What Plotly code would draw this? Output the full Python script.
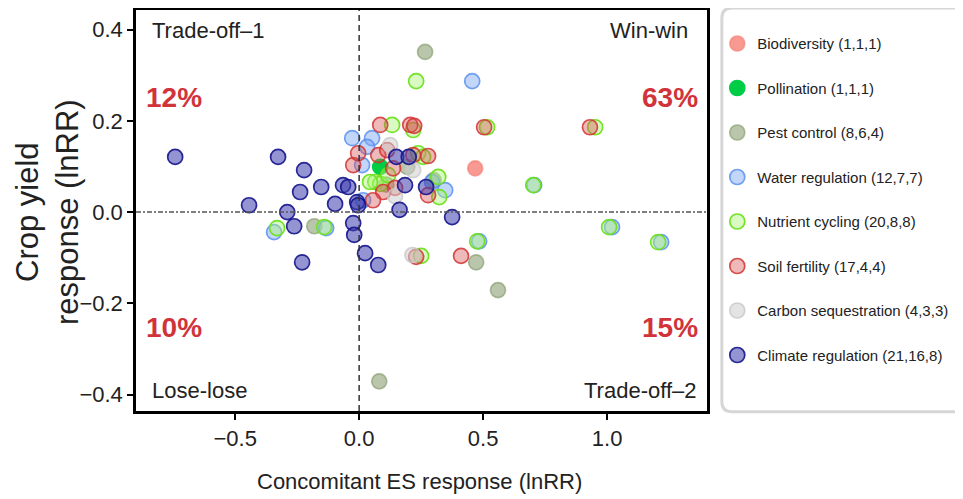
import plotly.graph_objects as go

series_names = ["Biodiversity (1,1,1)", "Pollination (1,1,1)", "Pest control (8,6,4)",
                "Water regulation (12,7,7)", "Nutrient cycling (20,8,8)", "Soil fertility (17,4,4)",
                "Carbon sequestration (4,3,3)", "Climate regulation (21,16,8)"]

bio_x = [0.468]
bio_y = [0.096]

poll_x = [0.085]
poll_y = [0.099]

pest_x = [0.266, 0.472, 0.560, 0.081, -0.181, 0.194, 0.110, 0.300]
pest_y = [0.351, -0.110, -0.171, -0.371, -0.031, 0.099, 0.060, 0.070]

water_x = [0.456, 0.706, 1.020, 1.218, 0.484, -0.343, -0.133, -0.028, 0.052, 0.012, 0.016, 0.347, 0.294, 0.032]
water_y = [0.287, 0.059, -0.033, -0.066, -0.064, -0.044, -0.035, 0.162, 0.162, 0.103, 0.026, 0.048, 0.066, 0.143]

nutr_x = [0.230, 0.952, 0.516, 0.218, 0.238, 0.258, 0.319, 0.323, 0.702, 1.008, 1.206, 0.476, 0.250,
          -0.331, -0.141, 0.133, 0.065, 0.085, 0.117, 0.044]
nutr_y = [0.287, 0.186, 0.186, 0.180, 0.129, 0.121, 0.077, 0.033, 0.059, -0.033, -0.066, -0.064, -0.096,
          -0.035, -0.033, 0.191, 0.066, 0.062, 0.081, 0.066]

soil_x = [0.931, 0.504, 0.206, 0.222, 0.218, 0.278, 0.411, 0.230, 0.085, -0.024, -0.004, 0.077, 0.113,
          0.137, 0.145, 0.097, 0.056, 0.278]
soil_y = [0.186, 0.186, 0.191, 0.189, 0.125, 0.123, -0.096, -0.098, 0.191, 0.103, 0.129, 0.125, 0.136,
          0.096, 0.053, 0.044, 0.026, 0.037]

carb_x = [0.218, 0.125, 0.215, 0.145]
carb_y = [0.092, 0.147, -0.094, 0.035]

clim_x = [-0.742, -0.444, -0.327, -0.222, -0.238, -0.153, -0.097, -0.290, -0.262, -0.230, -0.065, -0.044,
          -0.008, -0.024, -0.020, 0.024, 0.077, 0.163, 0.375, 0.150, 0.270, 0.185, 0.200, -0.004]
clim_y = [0.121, 0.015, 0.121, 0.092, 0.044, 0.055, 0.018, 0.000, -0.031, -0.110, 0.059, 0.055,
          0.022, -0.024, -0.050, -0.090, -0.116, 0.005, -0.011, 0.121, 0.055, 0.059, 0.121, 0.015]

fills = ["rgba(245,120,110,0.75)", "rgba(0,205,70,1)", "rgba(140,160,115,0.6)", "rgba(120,165,245,0.45)",
         "rgba(170,245,120,0.45)", "rgba(215,80,80,0.4)", "rgba(205,205,205,0.55)", "rgba(60,60,175,0.55)"]
lines = ["rgba(245,120,110,0.6)", "rgba(0,205,70,1)", "rgba(140,160,115,0.7)", "rgba(90,145,240,0.85)",
         "rgba(110,225,30,0.95)", "rgba(210,50,50,0.85)", "rgba(200,200,200,0.8)", "rgba(20,20,140,0.9)"]

xs = [bio_x, poll_x, pest_x, water_x, nutr_x, soil_x, carb_x, clim_x]
ys = [bio_y, poll_y, pest_y, water_y, nutr_y, soil_y, carb_y, clim_y]

fig = go.Figure()
for i, name in enumerate(series_names):
    fig.add_trace(go.Scatter(
        x=xs[i], y=ys[i], mode="markers", name=name, legendgroup=f"g{i}",
        marker=dict(size=15, color=fills[i], line=dict(color=lines[i], width=1.7)),
    ))

SANS = "Liberation Sans, Arial, sans-serif"

# page body has an 8px margin, so the figure is sized to fit the 963x499 window
fig.update_layout(
    width=955, height=491,
    margin=dict(l=128, r=256, t=2, b=88, autoexpand=False),
    plot_bgcolor="white", paper_bgcolor="white",
    showlegend=True,
    legend=dict(x=1.018, y=0.957, xanchor="left", yanchor="top",
                font=dict(family=SANS, size=15, color="#222"),
                tracegroupgap=22, bgcolor="rgba(0,0,0,0)", itemwidth=30),
    xaxis=dict(range=[-0.9, 1.403], tickvals=[-0.5, 0, 0.5, 1.0],
               ticktext=["\u22120.5", "0.0", "0.5", "1.0"],
               showgrid=False, zeroline=False, showline=True, mirror=True,
               linecolor="black", linewidth=2.5, ticks="outside", ticklen=6, tickwidth=2,
               tickcolor="black", tickfont=dict(family=SANS, size=22, color="#222")),
    yaxis=dict(range=[-0.436, 0.443], tickvals=[-0.4, -0.2, 0, 0.2, 0.4],
               ticktext=["\u22120.4", "\u22120.2", "0.0", "0.2", "0.4"],
               showgrid=False, zeroline=False, showline=True, mirror=True,
               linecolor="black", linewidth=2.5, ticks="outside", ticklen=6, tickwidth=2,
               tickcolor="black", tickfont=dict(family=SANS, size=22, color="#222")),
)

# dashed reference lines
fig.add_shape(type="line", xref="x", yref="paper", x0=0, x1=0, y0=0, y1=1,
              line=dict(color="#333", width=1.5, dash="6px,4px"))
fig.add_shape(type="line", xref="paper", yref="y", x0=0, x1=1, y0=0, y1=0,
              line=dict(color="#555", width=1.5, dash="5px,2px,2px,2px"))

# rounded legend box
rx, ry = 0.018, 0.025
x0, x1, y0, y1 = 1.026, 1.47, -0.002, 1.005
path = (f"M {x0+rx},{y1} L {x1-rx},{y1} Q {x1},{y1} {x1},{y1-ry} L {x1},{y0+ry} Q {x1},{y0} {x1-rx},{y0} "
        f"L {x0+rx},{y0} Q {x0},{y0} {x0},{y0+ry} L {x0},{y1-ry} Q {x0},{y1} {x0+rx},{y1} Z")
fig.add_shape(type="path", xref="paper", yref="paper", path=path,
              line=dict(color="#d6d6d6", width=3), fillcolor="rgba(0,0,0,0)", layer="below")

def ann(text, x, y, xanchor, size, color="#222", bold=False):
    fig.add_annotation(text=f"<b>{text}</b>" if bold else text, x=x, y=y, xref="paper", yref="paper",
                       xanchor=xanchor, yanchor="middle", showarrow=False,
                       font=dict(family=SANS, size=size, color=color))

ann("Trade-off\u20131", 0.024, 0.950, "left", 22)
ann("Win-win", 0.970, 0.950, "right", 22)
ann("Lose-lose", 0.024, 0.052, "left", 22)
ann("Trade-off\u20132", 0.986, 0.052, "right", 22)
ann("12%", 0.014, 0.783, "left", 28, "#d0343a", True)
ann("63%", 0.988, 0.783, "right", 28, "#d0343a", True)
ann("10%", 0.014, 0.209, "left", 28, "#d0343a", True)
ann("15%", 0.988, 0.209, "right", 28, "#d0343a", True)

# axis titles
fig.add_annotation(text="Concomitant ES response (lnRR)", x=0.496, y=-0.177, xref="paper", yref="paper",
                   xanchor="center", yanchor="middle", showarrow=False,
                   font=dict(family=SANS, size=22, color="#222"))
fig.add_annotation(text="Crop yield<br>response (lnRR)", x=-0.156, y=0.496, xref="paper", yref="paper",
                   xanchor="center", yanchor="middle", showarrow=False, textangle=-90,
                   font=dict(family=SANS, size=31, color="#222"))

fig.write_html("out.html")
